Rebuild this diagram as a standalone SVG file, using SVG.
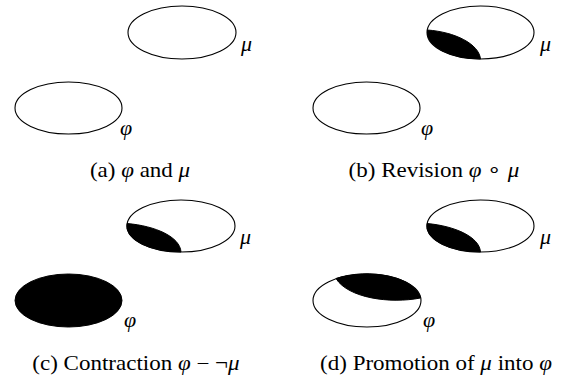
<svg xmlns="http://www.w3.org/2000/svg" width="576" height="381" viewBox="0 0 576 381">
<style>
.set{fill:#fff;stroke:#000;stroke-width:1.1}
.blk{fill:#000;stroke:#000;stroke-width:1}
.lbl{font-family:"Liberation Serif","Times New Roman",serif;font-style:italic;font-size:22px;fill:#000}
.cap{font-family:"Liberation Serif","Times New Roman",serif;font-size:20px;fill:#000;text-anchor:middle}
.m{font-style:italic}
</style>
<rect width="576" height="381" fill="#fff"/>
<g id="panel-a">
<ellipse class="set" cx="182" cy="32.5" rx="54" ry="26.5"/>
<text class="lbl" x="241" y="51">μ</text>
<ellipse class="set" cx="68.5" cy="108" rx="53.5" ry="26"/>
<text class="lbl" x="120" y="135">φ</text>
<text class="cap" transform="translate(140,177) scale(1.15,1)">(a) <tspan class="m">φ</tspan> and <tspan class="m">μ</tspan></text>
</g>
<g id="panel-b">
<ellipse class="set" cx="480.5" cy="32.5" rx="53.5" ry="26.5"/>
<path class="blk" d="M427.5,30 A53.5,26.5 0 0 0 480.5,59 C479,44 455,32 427.5,30 Z"/>
<text class="lbl" x="540" y="51">μ</text>
<ellipse class="set" cx="366.5" cy="108" rx="53.5" ry="26"/>
<text class="lbl" x="421" y="135">φ</text>
<text class="cap" transform="translate(434,177) scale(1.15,1)">(b) Revision <tspan class="m">φ</tspan> ∘ <tspan class="m">μ</tspan></text>
</g>
<g id="panel-c">
<ellipse class="set" cx="181" cy="226" rx="54" ry="26"/>
<path class="blk" d="M127,223.5 A54,26 0 0 0 181,252 C180,237 156,226 127,223.5 Z"/>
<text class="lbl" x="240" y="244">μ</text>
<ellipse class="blk" cx="68.5" cy="300.5" rx="53.5" ry="26.5"/>
<text class="lbl" x="124" y="327">φ</text>
<text class="cap" transform="translate(136,370) scale(1.15,1)">(c) Contraction <tspan class="m">φ</tspan> − ¬<tspan class="m">μ</tspan></text>
</g>
<g id="panel-d">
<ellipse class="set" cx="480.5" cy="226" rx="53.5" ry="26"/>
<path class="blk" d="M427,223.5 A53.5,26 0 0 0 480.5,252 C479.5,237 455,226 427,223.5 Z"/>
<text class="lbl" x="540" y="244">μ</text>
<ellipse class="set" cx="367" cy="300.5" rx="54" ry="26.5"/>
<path class="blk" d="M336,278.5 A54,26.5 0 0 1 420.5,298 C390,304 348,298 336,278.5 Z"/>
<text class="lbl" x="423" y="327">φ</text>
<text class="cap" transform="translate(436,370) scale(1.15,1)">(d) Promotion of <tspan class="m">μ</tspan> into <tspan class="m">φ</tspan></text>
</g>
</svg>
